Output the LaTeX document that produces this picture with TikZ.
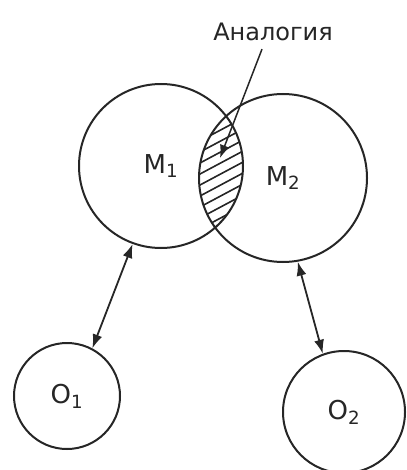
\documentclass[tikz,border=0pt]{standalone}
\usepackage{fontspec}
\setmainfont{DejaVu Sans}
\usetikzlibrary{arrows.meta}
\definecolor{ink}{gray}{0.15}
\begin{document}
\begin{tikzpicture}[x=1pt,y=-1pt,
  ring/.style={circle,draw=ink,line width=2pt,inner sep=0pt,text=ink,font=\fontsize{26}{30}\selectfont},
  hatch/.style={draw=ink,line width=1.6pt},
  link/.style={draw=ink,line width=1.8pt,{Latex[length=14pt,width=10pt]}-{Latex[length=14pt,width=10pt]}},
  pointer/.style={draw=ink,line width=1.5pt,-{Latex[length=13pt,width=10pt]}}]
\useasboundingbox (0,0) rectangle (406,470);
% hatching of the intersection
\begin{scope}
  \clip (161,166) circle [radius=82pt];
  \clip (283,178) circle [radius=84pt];
  \foreach \k in {0,...,18} {
    \draw[hatch] (185,{105+\k*11}) -- ++(75,-40);
  }
\end{scope}
\node[ring,minimum size=164pt] (M1) at (161,166) {M\textsubscript{1}};
\node[ring,minimum size=168pt] (M2) at (283,178) {M\textsubscript{2}};
\node[ring,minimum size=106pt] (O1) at (67,396) {O\textsubscript{1}};
\node[ring,minimum size=122pt] (O2) at (344,412) {O\textsubscript{2}};
\node[text=ink,font=\fontsize{24}{28}\selectfont,inner sep=2pt] (lab) at (273,32) {Аналогия};
\coordinate (tip) at (220,158);
\draw[pointer] ([xshift=-11pt,yshift=-6pt]lab.south) -- (tip);
\draw[link] (M1.250) -- (O1.62);
\draw[link] (M2.280) -- (O2.110);
\end{tikzpicture}
\end{document}
